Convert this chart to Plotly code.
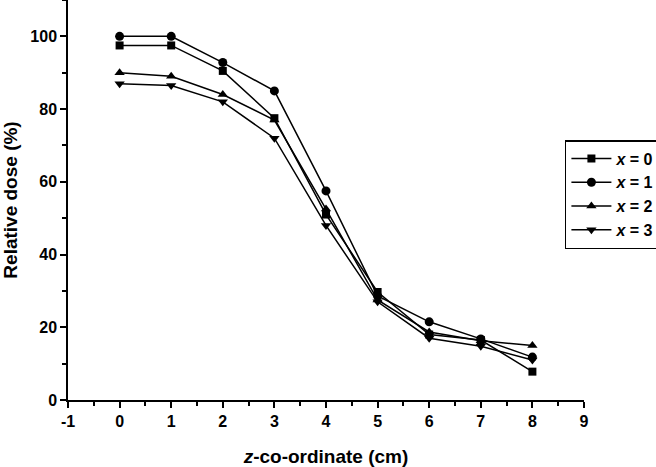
import plotly.graph_objects as go

z = [0, 1, 2, 3, 4, 5, 6, 7, 8]
dose_x0 = [97.5, 97.5, 90.5, 77.5, 51.0, 29.7, 18.0, 16.5, 7.8]
dose_x1 = [100.0, 100.0, 92.8, 85.0, 57.5, 28.6, 21.5, 16.8, 11.8]
dose_x2 = [90.0, 89.0, 84.0, 77.0, 52.5, 27.5, 18.7, 16.3, 15.0]
dose_x3 = [87.0, 86.5, 82.0, 72.0, 48.0, 27.0, 17.0, 14.8, 11.0]
series_names = ["<i>x</i> = 0", "<i>x</i> = 1", "<i>x</i> = 2", "<i>x</i> = 3"]
symbols = ["square", "circle", "triangle-up", "triangle-down"]
x_tick_vals = [-1, 0, 1, 2, 3, 4, 5, 6, 7, 8, 9]
x_tick_text = ["-1", "0", "1", "2", "3", "4", "5", "6", "7", "8", "9"]

fig = go.Figure()
for ys, name, sym in zip([dose_x0, dose_x1, dose_x2, dose_x3], series_names, symbols):
    fig.add_trace(go.Scatter(
        x=z, y=ys, name=name, mode="lines+markers",
        line=dict(color="black", width=1.5),
        marker=dict(symbol=sym, size=9 if sym != "square" else 8, color="black"),
        cliponaxis=False,
    ))

font_main = "Liberation Sans, Arial, sans-serif"
fig.update_layout(
    width=656, height=467,
    margin=dict(l=68, r=72, t=0, b=67, autoexpand=False),
    plot_bgcolor="white", paper_bgcolor="white",
    font=dict(family=font_main, size=16, color="black"),
    showlegend=True,
    legend=dict(
        x=0.963, y=0.65, xanchor="left", yanchor="top",
        bordercolor="black", borderwidth=1.5, bgcolor="white",
        font=dict(size=16, family=font_main, color="black", weight="bold"),
        tracegroupgap=0, itemwidth=40,
    ),
    xaxis=dict(
        range=[-1, 9], tickmode="array", tickvals=x_tick_vals, ticktext=x_tick_text,
        automargin=False,
        showgrid=False, zeroline=False,
        showline=True, linecolor="black", linewidth=1.5,
        ticks="outside", ticklen=6, tickwidth=1.5, tickcolor="black",
        minor=dict(ticks="outside", dtick=0.5, tick0=-1, ticklen=4, tickwidth=1.5, tickcolor="black"),
        tickfont=dict(size=16, weight="bold"),
        title=dict(text="<i>z</i>-co-ordinate (cm)", font=dict(size=19, weight="bold"), standoff=22),
    ),
    yaxis=dict(
        range=[0, 110], dtick=20, tick0=0, automargin=False,
        showgrid=False, zeroline=False,
        showline=True, linecolor="black", linewidth=1.5,
        ticks="outside", ticklen=6, tickwidth=1.5, tickcolor="black",
        minor=dict(ticks="outside", dtick=10, ticklen=4, tickwidth=1.5, tickcolor="black"),
        tickfont=dict(size=16, weight="bold"),
        title=dict(text="Relative dose (%)", font=dict(size=19, weight="bold"), standoff=12),
    ),
)

fig.write_html("out.html", config={"displayModeBar": False},
               post_script="document.body.style.margin='0';document.body.style.overflow='hidden';")
